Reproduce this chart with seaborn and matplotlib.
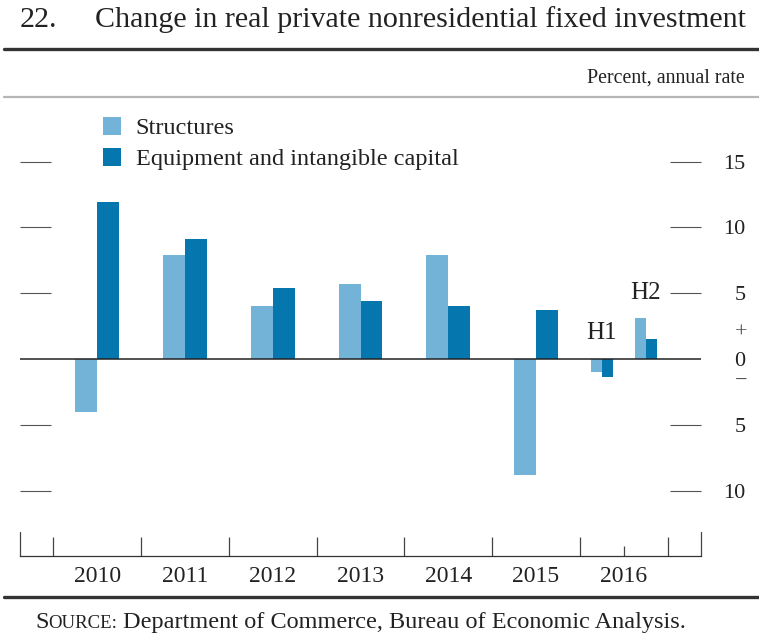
import matplotlib
matplotlib.use('Agg')
import matplotlib.pyplot as plt
import matplotlib.transforms as mtransforms
from matplotlib.lines import Line2D
from matplotlib.patches import Patch
import seaborn as sns

# data (percent, annual rate)
periods = ['2010', '2011', '2012', '2013', '2014', '2015', '2016 H1', '2016 H2']
period_start = [2010, 2011, 2012, 2013, 2014, 2015, 2016, 2016.5]
period_len = [1, 1, 1, 1, 1, 1, 0.5, 0.5]
structures = [-4.0, 7.9, 4.0, 5.7, 7.9, -8.8, -1.0, 3.1]
equipment = [11.9, 9.1, 5.4, 4.4, 4.0, 3.7, -1.4, 1.5]
year_labels = ['2010', '2011', '2012', '2013', '2014', '2015', '2016']
year_bounds = [2010, 2011, 2012, 2013, 2014, 2015, 2016, 2017]
ytick_vals = [-10, -5, 0, 5, 10, 15]
ytick_text = ['10', '5', '0', '5', '10', '15']

LIGHT = '#72b3d7'
DARK = '#0677ae'
INK = '#222222'

sns.set_theme(style='white')
plt.rcParams['font.family'] = ['Liberation Serif', 'DejaVu Serif']
plt.rcParams['text.color'] = INK

W, H = 759, 639
fig = plt.figure(figsize=(W / 100, H / 100), dpi=100)


def fx(px):
    return px / W


def fy(py):
    return 1 - py / H


# plot area in pixel terms: x 20..701, y 97..556
ax = fig.add_axes([fx(20), fy(556), fx(701) - fx(20), fy(97) - fy(556)])

for s, L, v_s, v_e in zip(period_start, period_len, structures, equipment):
    w = L * 0.25
    c = s + L / 2
    ax.bar(c - w / 2, v_s, width=w, color=LIGHT, linewidth=0)
    ax.bar(c + w / 2, v_e, width=w, color=DARK, linewidth=0)

ax.set_xlim(2010 - 0.38, 2017 + 0.38)
ax.set_ylim(-14.97, 19.91)
ax.axhline(0, color=INK, lw=1.1, zorder=3)

for side in ['top', 'left', 'right']:
    ax.spines[side].set_visible(False)
ax.spines['bottom'].set_color('#333333')
ax.spines['bottom'].set_linewidth(0.9)

# y ticks: inward on both sides, labels on the right
ax.set_yticks(ytick_vals)
ax.set_yticklabels(ytick_text)
ax.yaxis.set_ticks_position('both')
ax.tick_params(axis='y', direction='in', length=22.5, width=0.8, color='#555555',
               labelleft=False, labelright=True, pad=32, labelsize=16, labelcolor=INK)
for lbl in ax.get_yticklabels():
    lbl.set_horizontalalignment('right')
zt = ax.yaxis.get_major_ticks()[ytick_vals.index(0)]
zt.tick1line.set_visible(False)
zt.tick2line.set_visible(False)

ytr = mtransforms.blended_transform_factory(ax.transAxes, ax.transData)
xpos = (741 - 20) / (701 - 20)
ax.text(xpos, 2.0, '+', transform=ytr, ha='center', va='center', fontsize=16, color='#555555')
ax.text(xpos, -1.7, '\u2212', transform=ytr, ha='center', va='center', fontsize=16, color='#555555')

# x ticks: year boundaries, half-year tick in 2016, longer ticks at the ends
ax.set_xticks(year_bounds)
ax.set_xticklabels([])
ax.set_xticks([2016.5], minor=True)
ax.tick_params(axis='x', which='major', direction='in', length=13.7, width=0.9,
               color='#444444', bottom=True)
ax.tick_params(axis='x', which='minor', direction='in', length=7.5, width=0.9,
               color='#444444', bottom=True)
xtr = ax.get_xaxis_transform()
x0, x1 = ax.get_xlim()
end_h = 24 / (556 - 97)
for xe in [x0, x1]:
    ax.plot([xe, xe], [0, end_h], transform=xtr, color='#444444', lw=0.9, clip_on=False)
for yb, lab in zip(year_bounds[:-1], year_labels):
    ax.text(yb + 0.5, -(576 - 556) / (556 - 97), lab, transform=xtr,
            ha='center', va='center', fontsize=17, color=INK)

ax.text(2016.25, 2.0, 'H1', ha='center', va='center', fontsize=18, color=INK)
ax.text(2016.75, 5.0, 'H2', ha='center', va='center', fontsize=18, color=INK)

handles = [Patch(facecolor=LIGHT, edgecolor='none', label='Structures'),
           Patch(facecolor=DARK, edgecolor='none', label='Equipment and intangible capital')]
ax.legend(handles=handles, loc='upper left', bbox_to_anchor=(fx(103), fy(117)),
          bbox_transform=fig.transFigure, frameon=False, fontsize=17.5,
          handlelength=0.75, handleheight=0.75, handletextpad=0.6,
          labelspacing=0.35, borderpad=0, borderaxespad=0)

# header and footer
fig.text(fx(20), fy(27), '22.', fontsize=21.6, color=INK, va='baseline', ha='left')
fig.text(fx(95), fy(27), 'Change in real private nonresidential fixed investment',
         fontsize=21.6, color=INK, va='baseline', ha='left')
fig.add_artist(Line2D([fx(4), 1], [fy(49), fy(49)], transform=fig.transFigure,
                      color='#333333', lw=2.4))
fig.text(fx(745), fy(78), 'Percent, annual rate', fontsize=14.4, color=INK,
         ha='right', va='center')
fig.add_artist(Line2D([fx(4), 1], [fy(97), fy(97)], transform=fig.transFigure,
                      color='#b5b5b5', lw=1.6))
fig.add_artist(Line2D([fx(4), 1], [fy(597), fy(597)], transform=fig.transFigure,
                      color='#333333', lw=2.4))

# small-caps "SOURCE:" then the rest
t1 = fig.text(fx(35), fy(628), 'S', fontsize=17.5, color=INK, va='baseline')
fig.canvas.draw()
r = fig.canvas.get_renderer()
bb = t1.get_window_extent(r)
t2 = fig.text(bb.x1 / W, fy(628), 'OURCE:', fontsize=13.5, color=INK, va='baseline')
fig.canvas.draw()
bb2 = t2.get_window_extent(r)
fig.text(bb2.x1 / W + fx(6), fy(628), 'Department of Commerce, Bureau of Economic Analysis.',
         fontsize=17.5, color=INK, va='baseline')

fig.savefig('out.png', dpi=100)
